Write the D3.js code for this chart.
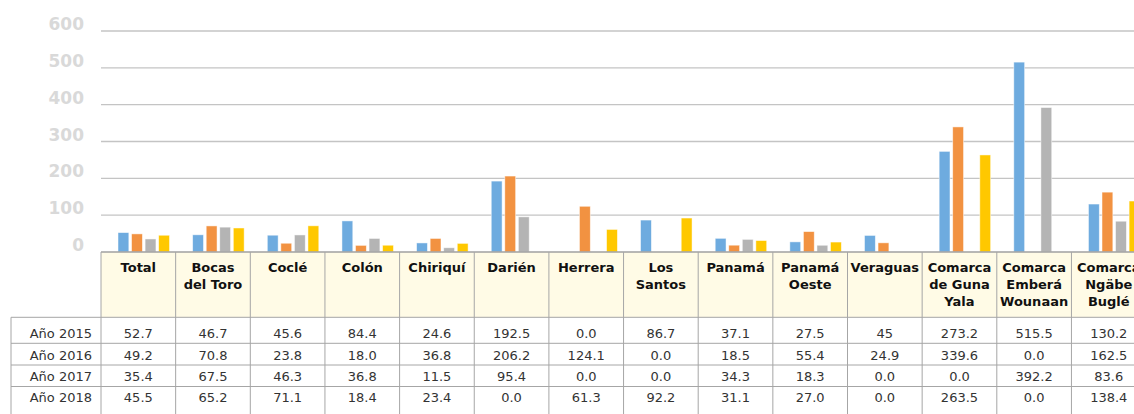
<!DOCTYPE html>
<html>
<head>
<meta charset="utf-8">
<script src="https://cdn.jsdelivr.net/npm/d3@7"></script>
<style>
  html, body { margin: 0; padding: 0; background: #fff; overflow: hidden; }
  svg { display: block; font-family: "DejaVu Sans", sans-serif; }
</style>
</head>
<body>
<div class="chart"></div>
<script>
// categories (header lines split by "|")
const categories = ["Total", "Bocas|del Toro", "Coclé", "Colón", "Chiriquí", "Darién", "Herrera",
    "Los|Santos", "Panamá", "Panamá|Oeste", "Veraguas", "Comarca|de Guna|Yala", "Comarca|Emberá|Wounaan", "Comarca|Ngäbe|Buglé"]
const seriesNames = ["Año 2015", "Año 2016", "Año 2017", "Año 2018"]
// values as printed in the table
const y2015 = ["52.7", "46.7", "45.6", "84.4", "24.6", "192.5", "0.0", "86.7", "37.1", "27.5", "45", "273.2", "515.5", "130.2"]
const y2016 = ["49.2", "70.8", "23.8", "18.0", "36.8", "206.2", "124.1", "0.0", "18.5", "55.4", "24.9", "339.6", "0.0", "162.5"]
const y2017 = ["35.4", "67.5", "46.3", "36.8", "11.5", "95.4", "0.0", "0.0", "34.3", "18.3", "0.0", "0.0", "392.2", "83.6"]
const y2018 = ["45.5", "65.2", "71.1", "18.4", "23.4", "0.0", "61.3", "92.2", "31.1", "27.0", "0.0", "263.5", "0.0", "138.4"]
const yTicks = [0, 100, 200, 300, 400, 500, 600]

const series = [y2015, y2016, y2017, y2018]
const colors = ["#6EABDF", "#F29241", "#B4B4B4", "#FFC800"]

let width = 1134, height = 414
let left = 101, colW = 74.65
let baseY = 252, topY = 31
let headerBottom = 317.3
let rowLines = [headerBottom, 343.3, 365, 386.5]
let tableLeft = 11

let svg = d3.select(".chart")
    .append("svg")
    .attr("width", width)
    .attr("height", height)

let xScale = d3.scaleBand()
    .domain(d3.range(categories.length))
    .range([left, left + colW * categories.length])
let xInner = d3.scaleBand()
    .domain(d3.range(series.length))
    .range([17, 68.5])
    .paddingInner(0.2)
let yScale = d3.scaleLinear()
    .domain([0, 600])
    .range([baseY, topY])

// gridlines
svg.append("g")
    .selectAll("line")
    .data(yTicks.filter(d => d > 0))
    .enter()
    .append("line")
    .attr("x1", left)
    .attr("x2", width)
    .attr("y1", d => yScale(d))
    .attr("y2", d => yScale(d))
    .attr("stroke", "#C4C4C4")
    .attr("stroke-width", 1.3)

// y labels
svg.append("g")
    .selectAll("text")
    .data(yTicks)
    .enter()
    .append("text")
    .attr("x", 84)
    .attr("y", d => yScale(d) - 1)
    .attr("text-anchor", "end")
    .attr("font-size", 17)
    .attr("font-weight", "bold")
    .attr("fill", "#D9D9D9")
    .text(d => d)

// bars
series.forEach((vals, si) => {
    svg.append("g")
        .selectAll("rect")
        .data(vals.map((v, i) => ({i: i, v: +v})).filter(d => d.v > 0))
        .enter()
        .append("rect")
        .attr("x", d => xScale(d.i) + xInner(si))
        .attr("width", xInner.bandwidth())
        .attr("y", d => yScale(d.v))
        .attr("height", d => baseY - yScale(d.v))
        .attr("fill", colors[si])
        .attr("stroke", "#ffffff")
        .attr("stroke-opacity", 0.6)
        .attr("stroke-width", 0.8)
})

// header row background
svg.append("rect")
    .attr("x", left)
    .attr("y", baseY)
    .attr("width", width - left)
    .attr("height", headerBottom - baseY)
    .attr("fill", "#FFFBE6")

let grid = svg.append("g")
    .attr("stroke", "#A6A6A6")
    .attr("stroke-width", 1)
// top line of table / baseline
grid.append("line")
    .attr("x1", left).attr("x2", width)
    .attr("y1", baseY).attr("y2", baseY)
    .attr("stroke", "#A0A0A0").attr("stroke-width", 1.4)
// horizontal row lines
grid.selectAll(".hline")
    .data(rowLines)
    .enter()
    .append("line")
    .attr("x1", tableLeft).attr("x2", width)
    .attr("y1", d => d).attr("y2", d => d)
// vertical lines
grid.selectAll(".vline")
    .data(d3.range(categories.length + 1))
    .enter()
    .append("line")
    .attr("x1", d => left + d * colW).attr("x2", d => left + d * colW)
    .attr("y1", baseY).attr("y2", height)
grid.append("line")
    .attr("x1", tableLeft).attr("x2", tableLeft)
    .attr("y1", headerBottom).attr("y2", height)

// header text
let headers = svg.append("g")
    .selectAll("text")
    .data(categories)
    .enter()
    .append("text")
    .attr("text-anchor", "middle")
    .attr("font-size", 13)
    .attr("font-weight", "bold")
    .attr("fill", "#111")
headers.each(function (d, i) {
    d3.select(this)
        .selectAll("tspan")
        .data(d.split("|"))
        .enter()
        .append("tspan")
        .attr("x", xScale(i) + colW / 2)
        .attr("y", (t, j) => 271.5 + j * 17)
        .text(t => t)
})

// table rows
let rowBase = [338, 359.5, 381, 402]
series.forEach((vals, si) => {
    svg.append("text")
        .attr("x", 92)
        .attr("y", rowBase[si])
        .attr("text-anchor", "end")
        .attr("font-size", 13)
        .attr("fill", "#333")
        .text(seriesNames[si])
    svg.append("g")
        .selectAll("text")
        .data(vals)
        .enter()
        .append("text")
        .attr("x", (d, i) => xScale(i) + colW / 2)
        .attr("y", rowBase[si])
        .attr("text-anchor", "middle")
        .attr("font-size", 13)
        .attr("fill", "#333")
        .text(d => d)
})
</script>
</body>
</html>
